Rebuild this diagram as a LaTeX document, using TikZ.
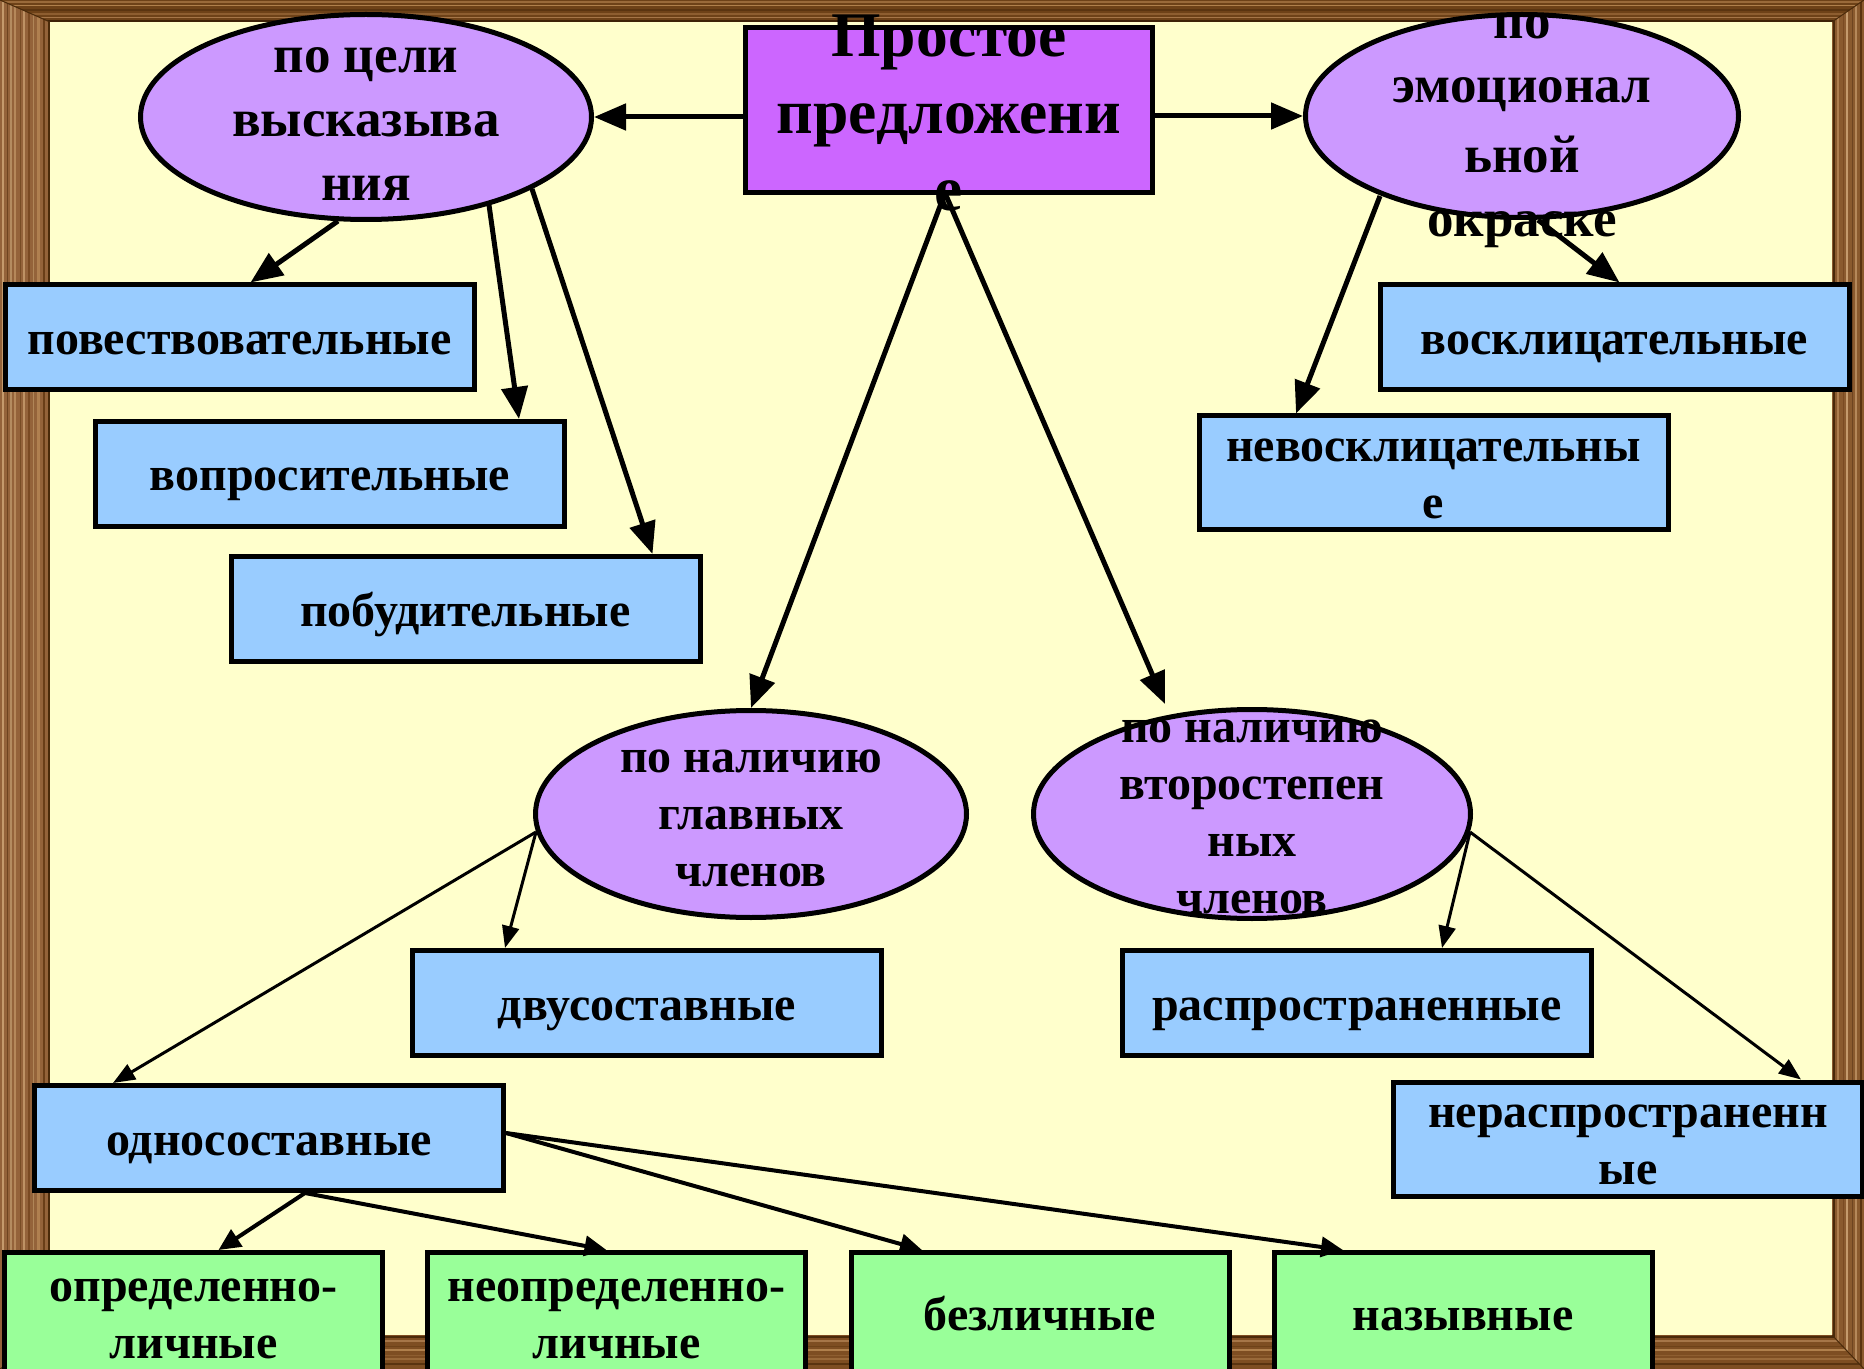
\documentclass[tikz,border=0pt]{standalone}
\usepackage{fontspec}
\setmainfont{Liberation Serif}
\usetikzlibrary{arrows.meta,shapes.geometric,calc}

\definecolor{cream}{HTML}{FFFFCC}
\definecolor{titlefill}{HTML}{CC66FF}
\definecolor{ellfill}{HTML}{CC99FF}
\definecolor{bluefill}{HTML}{99CCFF}
\definecolor{greenfill}{HTML}{99FF99}

% struts: box text (baseline below centre), symmetric ones for free text nodes
\newcommand\bxs{\rule[-5.75pt]{0pt}{28.5pt}}
\newcommand\ecs{\rule[-14.25pt]{0pt}{28.5pt}}
\newcommand\eas{\rule[-16pt]{0pt}{32pt}}
\newcommand\tts{\rule[-19.25pt]{0pt}{38.5pt}}

\begin{document}
\begin{tikzpicture}[x=0.5pt,y=-0.5pt,
  boxstyle/.style={draw=black, line width=2.5pt, fill=bluefill, minimum width=234.5pt, minimum height=52.5pt, inner sep=0pt, align=center, font=\bfseries\fontsize{24pt}{28.5pt}\selectfont},
  greenbox/.style={boxstyle, fill=greenfill, minimum width=189pt, minimum height=60.5pt},
  titlebox/.style={draw=black, line width=2.5pt, fill=titlefill, minimum width=203.5pt, minimum height=82.5pt, inner sep=0pt},
  ellstyle/.style={ellipse, draw=black, line width=2.5pt, fill=ellfill, inner sep=0pt},
  txtsmall/.style={align=center, inner sep=0pt, font=\bfseries\fontsize{24pt}{28.5pt}\selectfont},
  txtbig/.style={align=center, inner sep=0pt, font=\bfseries\fontsize{26.5pt}{32pt}\selectfont},
  txttitle/.style={align=center, inner sep=0pt, font=\bfseries\fontsize{31.8pt}{38.5pt}\selectfont},
  arrbig/.style={line width=2.5pt, -{Triangle[length=16pt,width=13pt]}},
  arrthin/.style={line width=1.5pt, -{Triangle[length=11pt,width=8.5pt]}},
  arrmid/.style={line width=2pt, -{Triangle[length=11pt,width=10pt]}},
]
\useasboundingbox (0,0) rectangle (1864,1369);
\clip (0,0) rectangle (1864,1369);

% ---- wooden frame ----
\fill[cream] (0,0) rectangle (1864,1369);
\begin{scope}
  \clip (0,0) -- (50,22) -- (50,1335) -- (0,1369) -- cycle;
  \fill[fill={rgb,255:red,148;green,99;blue,58}] (0,0) rectangle (50,1369);
  \foreach \p/\r/\g/\b/\w in {3/196/154/108/2, 7/110/68/32/1, 11/180/140/96/1.5, 15/181/136/90/2, 20/120/76/36/1, 24/190/146/100/2, 29/122/74/34/2, 33/176/134/88/1, 38/176/128/80/3, 44/106/62/24/2, 48.5/74/42/10/2}
    \draw[draw={rgb,255:red,\r;green,\g;blue,\b}, line width=\w*0.5pt] (\p,0) -- (\p,1369);
\end{scope}
\begin{scope}
  \clip (0,0) -- (1864,0) -- (1832,22) -- (50,22) -- cycle;
  \fill[fill={rgb,255:red,110;green,66;blue,24}] (0,0) rectangle (1864,22);
  \foreach \p/\r/\g/\b/\w in {2/154/106/58/2, 6/176/128/76/1, 10/90/52/16/2, 14/142/94/48/2, 18/166/118/72/1, 21/62/34/8/2}
    \draw[draw={rgb,255:red,\r;green,\g;blue,\b}, line width=\w*0.5pt] (0,\p) -- (1864,\p);
\end{scope}
\begin{scope}
  \clip (1864,0) -- (1864,1369) -- (1832,1335) -- (1832,22) -- cycle;
  \fill[fill={rgb,255:red,138;green,90;blue,46}] (1832,0) rectangle (1864,1369);
  \foreach \p/\r/\g/\b/\w in {1833.5/74/42/10/2, 1838/176/128/80/2, 1843/122/74/34/1, 1847/196/154/108/2, 1852/110/68/32/1, 1856/181/136/90/2, 1861/90/52/16/2}
    \draw[draw={rgb,255:red,\r;green,\g;blue,\b}, line width=\w*0.5pt] (\p,0) -- (\p,1369);
\end{scope}
\begin{scope}
  \clip (0,1369) -- (50,1335) -- (1832,1335) -- (1864,1369) -- cycle;
  \fill[fill={rgb,255:red,126;green,78;blue,34}] (0,1335) rectangle (1864,1369);
  \foreach \p/\r/\g/\b/\w in {1336.5/74/42/10/2, 1341/166/118/72/2, 1346/110/66/24/1, 1350/176/128/76/2, 1355/142/94/48/1, 1359/154/106/58/2, 1364/90/52/16/2}
    \draw[draw={rgb,255:red,\r;green,\g;blue,\b}, line width=\w*0.5pt] (0,\p) -- (1864,\p);
\end{scope}
\draw[draw={rgb,255:red,74;green,42;blue,10}, line width=0.5pt] (0,0) -- (50,22) (1864,0) -- (1832,22) (0,1369) -- (50,1335) (1864,1369) -- (1832,1335);

% ---- shapes ----
\node[titlebox] (t) at (949,110) {};
\node[ellstyle, minimum width=225.5pt, minimum height=102.5pt] (eA) at (366,117) {};
\node[ellstyle, minimum width=216.5pt, minimum height=101.5pt] (eB) at (1522,116) {};
\node[ellstyle, minimum width=215.5pt, minimum height=103.5pt] (eC) at (751,814) {};
\node[ellstyle, minimum width=218.5pt, minimum height=104.5pt] (eD) at (1252,814) {};

\node[boxstyle] (b1) at (239.5,337.5) {\bxs повествовательные};
\node[boxstyle] (b2) at (330,474) {\bxs вопросительные};
\node[boxstyle] (b3) at (465.5,609) {\bxs побудительные};
\node[boxstyle] (b4) at (1614.5,337.5) {\bxs восклицательные};
\node[boxstyle] (b5) at (1433.5,473) {\bxs невосклицательны\\\bxs е};
\node[boxstyle] (b6) at (647,1003) {\bxs двусоставные};
\node[boxstyle] (b7) at (1357,1003) {\bxs распространенные};
\node[boxstyle] (b8) at (269,1138) {\bxs односоставные};
\node[boxstyle] (b9) at (1628,1139) {\bxs нераспространенн\\\bxs ые};

\node[greenbox] (g1) at (193.5,1313) {\bxs определенно-\\\bxs личные};
\node[greenbox] (g2) at (616.5,1313) {\bxs неопределенно-\\\bxs личные};
\node[greenbox] (g3) at (1040,1313) {\bxs безличные};
\node[greenbox] (g4) at (1463,1313) {\bxs назывные};

% ---- connectors ----
\draw[arrbig] (t.west |- eA.east) -- (eA.east);
\draw[arrbig] (t.east |- eB.west) -- (eB.west);
\draw[arrbig] ($(t.south)+(-4,-2)$) -- (eC.north);
\draw[arrbig] ($(t.south)+(-4,-2)$) -- ($(eD.center)+(-87,-110)$);
\draw[arrbig] ($(eA.center)+(-28,104)$) -- ($(b1.north)+(11,0)$);
\draw[arrbig] ($(eA.center)+(123,88)$) -- ($(b2.north)+(189,0)$);
\draw[arrbig] ($(eA.center)+(166,72)$) -- ($(b3.north)+(187,0)$);
\draw[arrbig] ($(eB.center)+(16,104)$) -- ($(b4.north)+(5,0)$);
\draw[arrbig] ($(eB.center)+(-142,80)$) -- ($(b5.north)+(-137.5,0)$);
\draw[arrthin] ($(eC.center)+(-215,18)$) -- ($(b6.north)+(-142,0)$);
\draw[arrthin] ($(eC.center)+(-215,18)$) -- ($(b8.north)+(-156,0)$);
\draw[arrthin] ($(eD.center)+(218,18)$) -- ($(b7.north)+(85,0)$);
\draw[arrthin] ($(eD.center)+(218,18)$) -- ($(b9.north)+(173,0)$);
\draw[arrmid] ($(b8.south)+(36,0)$) -- ($(g1.north)+(25,0)$);
\draw[arrmid] ($(b8.south)+(36,0)$) -- ($(g2.north)+(-10,0)$);
\draw[arrmid] ($(b8.east)+(0,-5)$) -- ($(g3.north)+(-118,0)$);
\draw[arrmid] ($(b8.east)+(0,-5)$) -- ($(g4.north)+(-120,0)$);

% ---- texts in title and ellipses ----
\node[txttitle] (tt) at (949,132) {\tts Простое\\\tts предложени\\\tts е};
\node[txtbig] (tA) at (366,136.5) {\eas по цели\\\eas высказыва\\\eas ния};
\node[txtbig] (tB) at (1522,137.5) {\eas по\\\eas эмоционал\\\eas ьной\\\eas окраске};
\node[txtsmall] (tC) at (751,829.5) {\ecs по наличию\\\ecs главных\\\ecs членов};
\node[txtsmall] (tD) at (1252,828) {\ecs по наличию\\\ecs второстепен\\\ecs ных\\\ecs членов};
\end{tikzpicture}
\end{document}
